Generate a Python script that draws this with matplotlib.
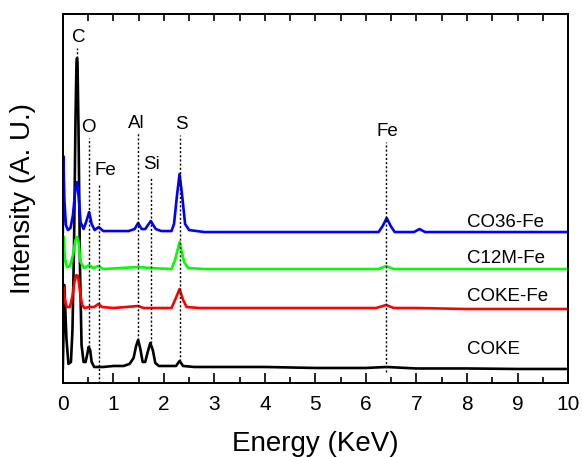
import matplotlib
matplotlib.use("Agg")
import matplotlib.pyplot as plt

plt.rcParams['font.family'] = ['Liberation Sans', 'DejaVu Sans']

# EDS spectra, energy (keV) vs intensity (a.u., stacked)
e_coke = [0.0, 0.03, 0.07, 0.11, 0.16, 0.19, 0.22, 0.25, 0.27, 0.28, 0.29, 0.31, 0.34, 0.37,
          0.41, 0.45, 0.48, 0.51, 0.54, 0.57, 0.62, 0.8, 1.0, 1.2, 1.32, 1.40, 1.45, 1.49,
          1.53, 1.58, 1.63, 1.68, 1.73, 1.78, 1.83, 1.9, 2.1, 2.24, 2.31, 2.38, 2.6, 3, 4,
          5, 6, 6.4, 7, 8, 9, 10]
i_coke = [15, 98, 45, 19, 21, 53, 133, 263, 321, 325, 321, 253, 113, 38,
          21, 21, 28, 36, 33, 21, 16, 16, 17, 17, 19, 25, 37, 43,
          35, 21, 21, 31, 40, 33, 20, 17, 17, 17, 22, 17, 16, 16, 16,
          15, 15, 16, 14.5, 14.5, 14, 14]

e_cokefe = [0.0, 0.01, 0.04, 0.08, 0.14, 0.19, 0.23, 0.27, 0.30, 0.34, 0.38, 0.43, 0.52,
            0.62, 0.70, 0.78, 1.0, 1.49, 1.6, 2.15, 2.22, 2.31, 2.38, 2.45, 2.7, 4, 6.2,
            6.4, 6.55, 7, 8, 10]
i_cokefe = [75, 96, 83, 76, 76, 87, 101, 108, 107, 91, 78, 75, 76,
            76, 79, 76, 75, 77, 75, 75, 83, 94, 83, 76, 75, 75, 75,
            78, 75, 75, 74, 74]

e_c12m = [0.0, 0.01, 0.04, 0.08, 0.14, 0.2, 0.25, 0.28, 0.31, 0.35, 0.42, 0.52, 0.6, 0.7,
          0.8, 1.49, 1.74, 2.15, 2.22, 2.31, 2.4, 2.48, 2.8, 4, 6.25, 6.4, 6.55, 10]
i_c12m = [114, 147, 125, 116, 117, 128, 143, 146, 141, 121, 115, 118, 115, 117,
          114, 116, 115, 114, 123, 141, 121, 115, 114, 114, 114, 117, 114, 114]

e_co36 = [0.0, 0.01, 0.03, 0.06, 0.1, 0.15, 0.2, 0.25, 0.28, 0.31, 0.35, 0.41, 0.46, 0.52,
          0.57, 0.63, 0.71, 0.8, 1.3, 1.42, 1.49, 1.56, 1.63, 1.74, 1.84, 1.95, 2.15, 2.2,
          2.26, 2.31, 2.36, 2.42, 2.5, 2.8, 4, 6.25, 6.33, 6.41, 6.49, 6.57, 6.95, 7.06,
          7.17, 10]
i_co36 = [151, 227, 183, 158, 153, 155, 168, 195, 201, 188, 161, 154, 161, 171,
          159, 153, 156, 152, 152, 154, 160, 154, 154, 162, 154, 152, 152, 159,
          188, 209, 188, 159, 153, 151, 151, 151, 157, 165, 157, 151, 151, 154,
          151, 151]

series = [
    ("COKE", e_coke, i_coke, "black", 33),
    ("COKE-Fe", e_cokefe, i_cokefe, "#ff0000", 87),
    ("C12M-Fe", e_c12m, i_c12m, "#00ff00", 125),
    ("CO36-Fe", e_co36, i_co36, "#0000ff", 161),
]

# element markers: name, line energy, line top, line bottom, label x, label y
elements = ["C", "O", "Fe", "Al", "Si", "S", "Fe"]
elem_e = [0.28, 0.52, 0.71, 1.49, 1.75, 2.31, 6.4]
elem_top = [335, 245, 198, 250, 205, 248, 241]
elem_bot = [325, 36, 0, 43, 40, 22, 11]
label_x = [0.32, 0.51, 0.85, 1.45, 1.76, 2.34, 6.42]
label_y = [346, 256, 213, 260, 219, 259, 252]

fig = plt.figure(figsize=(5.82, 4.57), dpi=100)
ax = fig.add_axes([0.108, 0.162, 0.868, 0.807])

for name, e, y, color, ly in series:
    ax.plot(e, y, color=color, linewidth=1.9)
    ax.text(8.0, ly, name, fontsize=13.5, ha="left", va="center")

for name, e, top, bot, lx, ly in zip(elements, elem_e, elem_top, elem_bot, label_x, label_y):
    ax.plot([e, e], [bot, top], color="black", linestyle=(0, (1.5, 1.5)), linewidth=1.0)
    ax.text(lx, ly, name, fontsize=13.5, ha="center", va="center")

ax.set_xlim(0, 10)
ax.set_ylim(0, 369)
ax.set_xticks(range(0, 11))
ax.set_xticks([i + 0.5 for i in range(10)], minor=True)
ax.set_yticks([])
ax.tick_params(axis="x", which="major", direction="in", length=7, width=1.2,
               labelsize=15, pad=9)
ax.tick_params(axis="x", which="minor", direction="in", length=4, width=1.2)

top = ax.twiny()
top.set_xlim(0, 10)
top.set_xticks([i * 0.5 for i in range(1, 20)])
top.set_xticklabels([])
top.tick_params(axis="x", direction="in", length=5, width=1.2)

for a in (ax, top):
    for sp in a.spines.values():
        sp.set_linewidth(1.3)

ax.set_xlabel("Energy (KeV)", fontsize=20, labelpad=12)
ax.set_ylabel("Intensity (A. U.)", fontsize=20, labelpad=19)

plt.savefig("out.png", dpi=100)
